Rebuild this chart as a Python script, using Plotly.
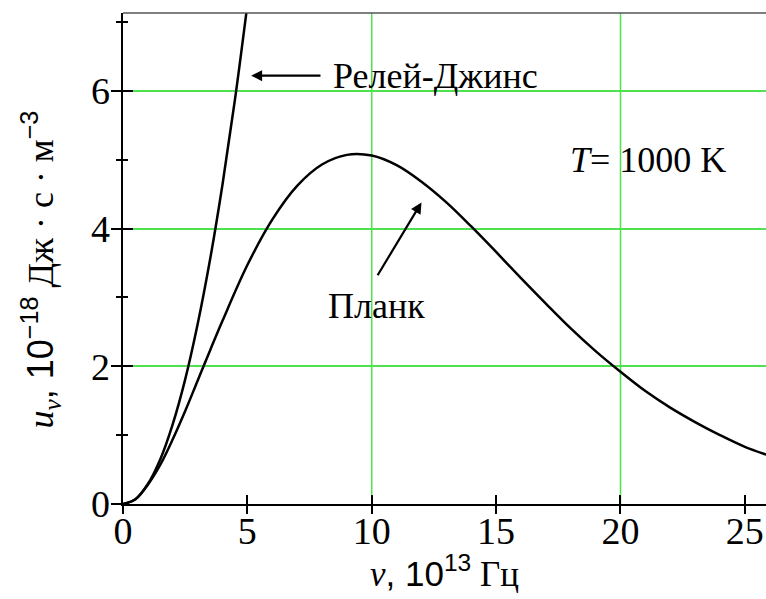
import plotly.graph_objects as go

# ---- data ----
nu_rj = [0, 0.5, 1.0, 1.5, 2.0, 2.5, 3.0, 3.5, 4.0, 4.5, 5.0]
u_rj = [0, 0.07, 0.29, 0.65, 1.16, 1.81, 2.61, 3.55, 4.64, 5.87, 7.25]

nu_planck = [0, 0.5, 1, 1.5, 2, 2.5, 3, 3.5, 4, 5, 6, 7, 8, 9, 10, 11, 12, 13, 14,
             15, 16, 17, 18, 19, 20, 21, 22, 23, 24, 25, 26]
u_planck = [0, 0.07, 0.28, 0.57, 0.94, 1.35, 1.79, 2.23, 2.66, 3.47, 4.13, 4.62, 4.93,
            5.07, 5.06, 4.92, 4.68, 4.38, 4.03, 3.66, 3.28, 2.91, 2.55, 2.22, 1.92,
            1.64, 1.40, 1.19, 1.00, 0.83, 0.70]

x_ticks = [0, 5, 10, 15, 20, 25]
y_ticks = [0, 2, 4, 6]
x_grid = [10, 20]

label_rj = "Релей-Джинс"
label_planck = "Планк"
label_T = "<i>T</i>= 1000 K"

X_RANGE = [0, 25.85]
Y_RANGE = [0, 7.13]

SERIF = "'Liberation Serif', 'Times New Roman', serif"
SANS = "'Liberation Sans', Arial, sans-serif"
GREEN = "#4fe24f"

fig = go.Figure()
fig.add_trace(go.Scatter(x=nu_rj, y=u_rj, mode="lines",
                         line=dict(color="black", width=2.5, shape="spline"),
                         showlegend=False, hoverinfo="skip"))
fig.add_trace(go.Scatter(x=nu_planck, y=u_planck, mode="lines",
                         line=dict(color="black", width=2.5, shape="spline"),
                         showlegend=False, hoverinfo="skip"))

tickfont = dict(family=SERIF, size=38, color="black")

fig.update_layout(
    width=766, height=599,
    margin=dict(l=123, r=0, t=13, b=95),
    paper_bgcolor="white", plot_bgcolor="white",
    showlegend=False,
    font=dict(family=SERIF, color="black"),
    # main axes: line, outside ticks, green y-grid
    xaxis=dict(range=X_RANGE, tickvals=x_ticks,
               ticks="outside", ticklen=8, tickwidth=1.5, tickcolor="black",
               showticklabels=False, showgrid=False, zeroline=False,
               showline=True, linecolor="black", linewidth=1.5),
    yaxis=dict(range=Y_RANGE, tickvals=y_ticks,
               ticks="outside", ticklen=10, tickwidth=1.5, tickcolor="black",
               showticklabels=False,
               showgrid=True, gridcolor=GREEN, gridwidth=1.5, zeroline=False,
               showline=True, linecolor="black", linewidth=1.5,
               minor=dict(dtick=1, tick0=0, ticks="outside", ticklen=5,
                          tickwidth=1.5, tickcolor="black", showgrid=False)),
    # overlay axes: inside ticks + tick labels
    xaxis2=dict(range=X_RANGE, overlaying="x", anchor="y", side="bottom",
                tickvals=x_ticks, ticktext=[str(v) for v in x_ticks],
                ticks="inside", ticklen=9, tickwidth=1.5, tickcolor="black",
                showticklabels=True, tickfont=tickfont, ticklabelstandoff=1,
                showgrid=False, zeroline=False, showline=False),
    yaxis2=dict(range=Y_RANGE, overlaying="y", anchor="x", side="left",
                tickvals=y_ticks, ticktext=[str(v) for v in y_ticks],
                ticks="inside", ticklen=10, tickwidth=1.5, tickcolor="black",
                showticklabels=True, tickfont=tickfont, ticklabelstandoff=12,
                showgrid=False, zeroline=False, showline=False,
                minor=dict(dtick=1, tick0=0, ticks="inside", ticklen=5,
                           tickwidth=1.5, tickcolor="black", showgrid=False)),
)

# invisible anchor trace so the overlay axes are drawn
fig.add_trace(go.Scatter(x=[None], y=[None], xaxis="x2", yaxis="y2",
                         showlegend=False, hoverinfo="skip"))

shapes = []
for gx in x_grid:
    shapes.append(dict(type="line", xref="x", yref="paper", x0=gx, x1=gx, y0=0, y1=1,
                       line=dict(color=GREEN, width=1.5), layer="below"))
shapes.append(dict(type="line", xref="paper", yref="paper", x0=0, x1=1, y0=1, y1=1,
                   line=dict(color="#555555", width=1.5)))
fig.update_layout(shapes=shapes)

ann_font = dict(family=SERIF, size=36, color="black")
annotations = [
    # Rayleigh-Jeans arrow + label
    dict(x=5.15, y=6.22, ax=8.0, ay=6.22, xref="x", yref="y", axref="x", ayref="y",
         text="", showarrow=True, arrowhead=2, arrowsize=1, arrowwidth=2.2,
         arrowcolor="black", standoff=0, startstandoff=0),
    dict(x=8.35, y=6.22, xref="x", yref="y", text=label_rj, showarrow=False,
         xanchor="left", yanchor="middle", font=ann_font),
    # Planck arrow + label
    dict(x=12.0, y=4.38, ax=10.2, ay=3.3, xref="x", yref="y", axref="x", ayref="y",
         text="", showarrow=True, arrowhead=2, arrowsize=1, arrowwidth=2.2,
         arrowcolor="black", standoff=0, startstandoff=0),
    dict(x=10.2, y=2.88, xref="x", yref="y", text=label_planck, showarrow=False,
         xanchor="center", yanchor="middle", font=ann_font),
    # temperature
    dict(x=21.1, y=4.99, xref="x", yref="y", text=label_T, showarrow=False,
         xanchor="center", yanchor="middle", font=ann_font),
    # axis titles
    dict(x=0.5, y=-0.138, xref="paper", yref="paper", showarrow=False,
         xanchor="center", yanchor="middle",
         text=(f"<i>ν</i><span style=\"font-family:{SANS}\">, 10<sup>13</sup></span> Гц"),
         font=dict(family=SERIF, size=35, color="black")),
    dict(x=-0.128, y=0.477, xref="paper", yref="paper", showarrow=False,
         xanchor="center", yanchor="middle", textangle=-90,
         text=(f"<i>u</i><sub><i>ν</i></sub><span style=\"font-family:{SANS}\">,"
               f" 10<sup>−18</sup></span> Дж · с · м<span style=\"font-family:{SANS}\"><sup>−3</sup></span>"),
         font=dict(family=SERIF, size=36, color="black")),
]
fig.update_layout(annotations=annotations)

fig.write_html("out.html")
